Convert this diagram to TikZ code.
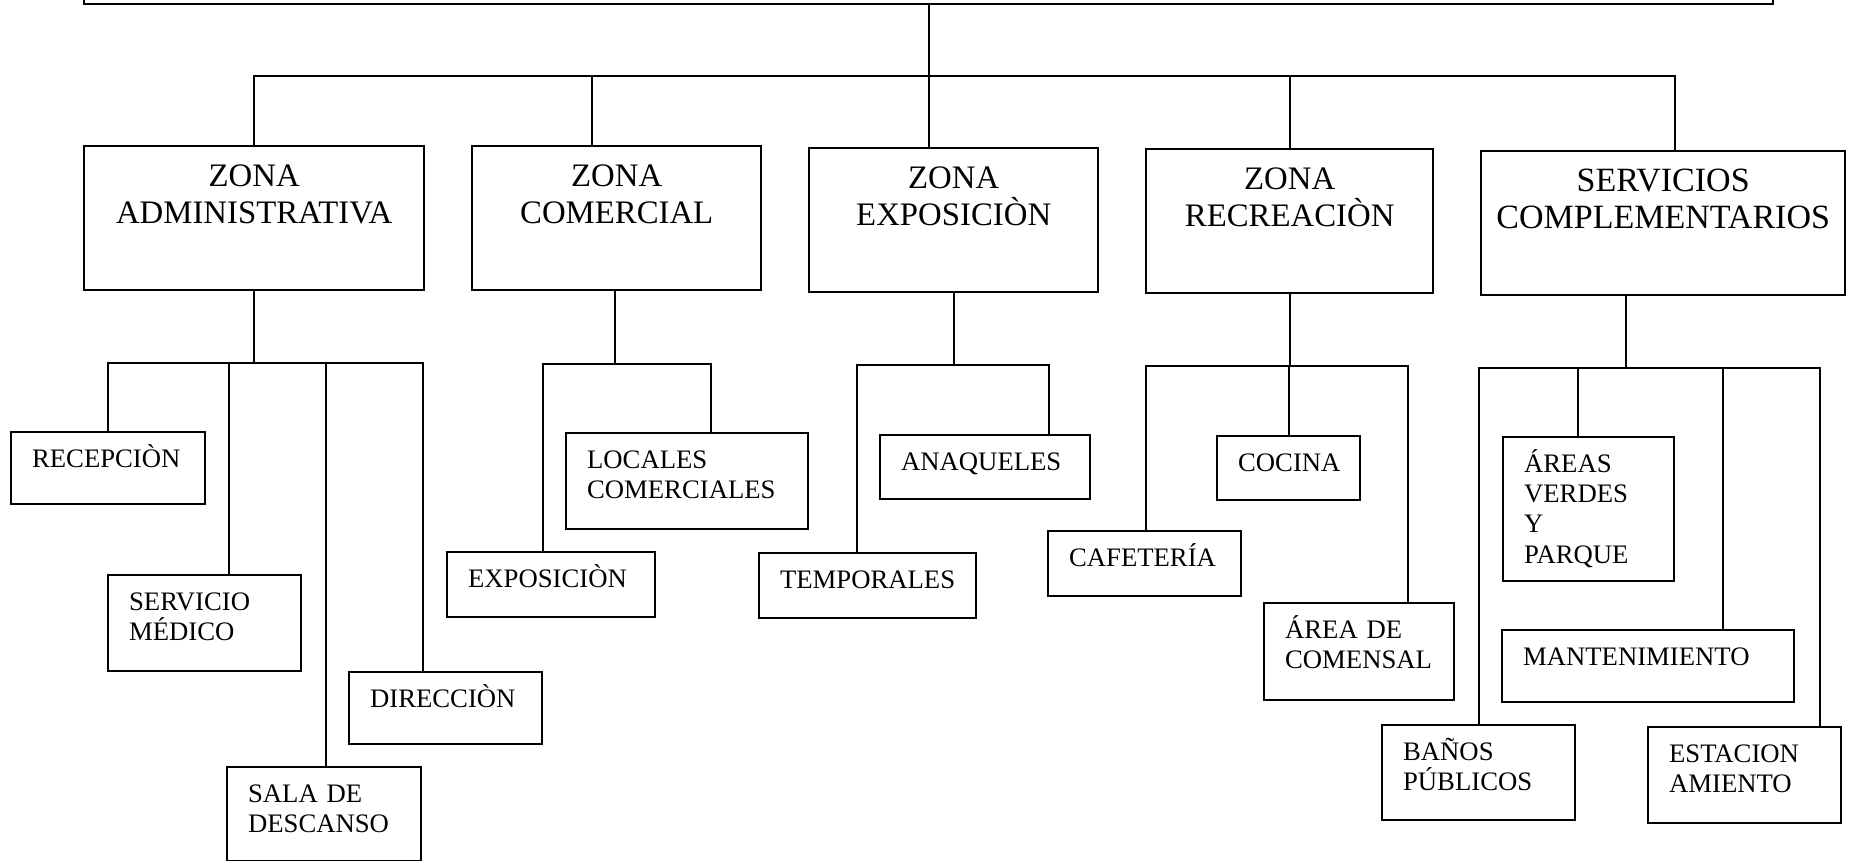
\documentclass[tikz,border=0pt]{standalone}
\usepackage{fontspec}
\setmainfont{Liberation Serif}

\tikzset{
  zone/.style={draw, line width=1.2pt, anchor=north west, inner sep=0pt, align=center,
    font=\fontsize{16.4pt}{18.5pt}\selectfont, text height=20pt, text depth=52pt},
  sub/.style={draw, line width=1.1pt, anchor=north west, inner xsep=10.5pt, inner ysep=0pt,
    align=left, font=\fontsize{13.35pt}{15.2pt}\selectfont, text height=17.5pt},
  link/.style={line width=1pt},
}

\begin{document}
\begin{tikzpicture}[x=0.5pt, y=-0.5pt] % one unit = one pixel of the scan
    \clip (0,0) rectangle (1856,861);

    \node[draw, line width=1.2pt, anchor=south west, inner sep=0pt,
          minimum width=844.5pt, minimum height=40pt] (top) at (83,5) {};

    % zones
    \node[zone, text width=170pt] (za) at (83,145) {ZONA\\ADMINISTRATIVA};
    \node[zone, text width=144.5pt] (zc) at (471,145) {ZONA\\COMERCIAL};
    \node[zone, text width=144.5pt] (ze) at (808,147) {ZONA\\EXPOSICIÒN};
    \node[zone, text width=143.5pt] (zr) at (1145,148) {ZONA\\RECREACIÒN};
    \node[zone, text width=182pt, font=\fontsize{17pt}{18.5pt}\selectfont] (sc) at (1480,150) {SERVICIOS\\COMPLEMENTARIOS};

    % spaces of each zone
    \node[sub, text width=76pt, text depth=18.5pt] (rec) at (10,431) {RECEPCIÒN};
    \node[sub, text width=75.5pt, text depth=30.5pt] (ser) at (107,574) {SERVICIO\\MÉDICO};
    \node[sub, text width=76pt, text depth=29.5pt] (sal) at (226,766) {SALA DE\\DESCANSO};
    \node[sub, text width=75.5pt, text depth=18.5pt] (dir) at (348,671) {DIRECCIÒN};

    \node[sub, text width=100pt, text depth=30.5pt] (loc) at (565,432) {LOCALES\\COMERCIALES};
    \node[sub, text width=83pt, text depth=15pt] (exp) at (446,551) {EXPOSICIÒN};

    \node[sub, text width=84pt, text depth=14.5pt] (ana) at (879,434) {ANAQUELES};
    \node[sub, text width=87.5pt, text depth=15pt] (tem) at (758,552) {TEMPORALES};

    \node[sub, text width=75.5pt, text depth=15pt] (caf) at (1047,530) {CAFETERÍA};
    \node[sub, text width=50.5pt, text depth=14.5pt] (coc) at (1216,435) {COCINA};
    \node[sub, text width=74pt, text depth=31pt] (com) at (1263,602) {ÁREA DE\\COMENSAL};

    \node[sub, text width=75.5pt, text depth=30pt] (ban) at (1381,724) {BAÑOS\\PÚBLICOS};
    \node[sub, text width=64.5pt, text depth=54.5pt] (are) at (1502,436) {ÁREAS\\VERDES\\Y\\PARQUE};
    \node[sub, text width=125pt, text depth=18.5pt] (man) at (1501,629) {MANTENIMIENTO};
    \node[sub, text width=75.5pt, text depth=30.5pt] (est) at (1647,726) {ESTACION\\AMIENTO};

    % main tree
    \draw[link] (top.south) -- ++(0,71) coordinate (hub);
    \draw[link] (za.north) |- (hub);
    \draw[link] ([xshift=-12.25pt]zc.north) |- (hub);
    \draw[link] ([xshift=-12.25pt]ze.north) |- (hub);
    \draw[link] (zr.north) |- (hub);
    \draw[link] ([xshift=6pt]sc.north) |- (hub);

    % branches below the zones
    \draw[link] (za.south) -- ++(0,72) coordinate (za-j);
    \draw[link] (za-j) -| (rec.north);
    \draw[link] (za-j) -| ([xshift=12pt]ser.north);
    \draw[link] (za-j) -| ([xshift=1pt]sal.north);
    \draw[link] (za-j) -| ([xshift=-11.5pt]dir.north);

    \draw[link] ([xshift=-0.75pt]zc.south) -- ++(0,72.5) coordinate (zc-j);
    \draw[link] (zc-j) -| ([xshift=12pt]loc.north);
    \draw[link] (zc-j) -| ([xshift=-4pt]exp.north);

    \draw[link] (ze.south) -- ++(0,72) coordinate (ze-j);
    \draw[link] (ze-j) -| ([xshift=32pt]ana.north);
    \draw[link] (ze-j) -| ([xshift=-5.5pt]tem.north);

    \draw[link] (zr.south) -- ++(0,72) coordinate (zr-j);
    \draw[link] (zr-j) -| ([xshift=0.75pt]caf.north);
    \draw[link] (zr-j) -| (coc.north);
    \draw[link] (zr-j) -| ([xshift=24.5pt]com.north);

    \draw[link] ([xshift=-18.5pt]sc.south) -- ++(0,72) coordinate (sc-j);
    \draw[link] (sc-j) -| (ban.north);
    \draw[link] (sc-j) -| ([xshift=-5.5pt]are.north);
    \draw[link] (sc-j) -| ([xshift=37.5pt]man.north);
    \draw[link] (sc-j) -| ([xshift=37.5pt]est.north);
\end{tikzpicture}
\end{document}
